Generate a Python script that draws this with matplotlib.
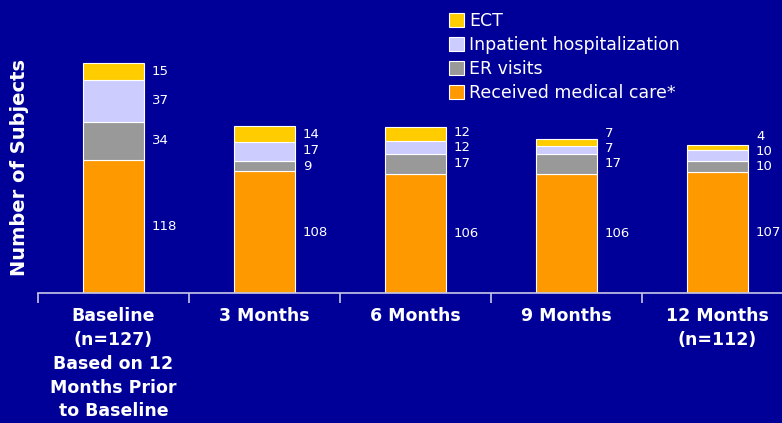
import matplotlib.pyplot as plt
import numpy as np

# data
categories = ['Baseline\n(n=127)\nBased on 12\nMonths Prior\nto Baseline',
              '3 Months', '6 Months', '9 Months', '12 Months\n(n=112)']
medical = [118, 108, 106, 106, 107]
er_visits = [34, 9, 17, 17, 10]
inpatient = [37, 17, 12, 7, 10]
ect = [15, 14, 12, 7, 4]

series = [('Received medical care*', medical, '#FF9900'),
          ('ER visits', er_visits, '#999999'),
          ('Inpatient hospitalization', inpatient, '#CCCCFF'),
          ('ECT', ect, '#FFCC00')]

bg = '#000099'
W, H = 782, 423
fig = plt.figure(figsize=(W/100, H/100), dpi=100, facecolor=bg)

# axes: bottom spine at y=293px, 1.127 px per subject, category cells 151 px wide
ymax = 220
ax_h = ymax*1.127
ax = fig.add_axes([38/W, (H-293)/H, 755/W, ax_h/H])
ax.set_facecolor(bg)

x = np.arange(len(categories))
bottom = np.zeros(len(categories))
handles = []
mids = []
for name, vals, col in series:
    vals = np.array(vals, dtype=float)
    b = ax.bar(x, vals, 0.41, bottom=bottom, color=col, edgecolor='white',
               linewidth=0.8, label=name)
    handles.append(b)
    mids.append(bottom + vals/2)
    bottom = bottom + vals

# value labels beside each segment, pushed apart where segments are thin
min_gap = 13.5
for i in range(len(categories)):
    prev = -100
    for k, (name, vals, col) in enumerate(series):
        y = max(mids[k][i], prev + min_gap)
        prev = y
        ax.text(x[i] + 0.255, y, str(vals[i]), color='white', fontsize=9.5,
                va='center', ha='left')

ax.set_xlim(-0.5, len(categories) - 0.5)
ax.set_ylim(0, ymax)
for s in ['top', 'right', 'left']:
    ax.spines[s].set_visible(False)
ax.spines['bottom'].set_color('#C8C8E8')
ax.spines['bottom'].set_linewidth(1.2)
ax.set_yticks([])
ax.set_xticks(x)
ax.set_xticklabels(categories, color='white', fontsize=12.5, fontweight='bold',
                   linespacing=1.42)
ax.tick_params(axis='x', which='major', length=0, pad=10)
ax.set_xticks(np.arange(-0.5, len(categories)), minor=True)
ax.tick_params(axis='x', which='minor', length=7, width=1.2, color='#C8C8E8',
               direction='out')

fig.text(20/W, 1-167/H, 'Number of Subjects', rotation=90, color='white',
         fontsize=14, fontweight='bold', ha='center', va='center')

leg = fig.legend(handles[::-1], [s[0] for s in series[::-1]],
                 loc='upper left', bbox_to_anchor=(449/W, 1-12/H),
                 frameon=False, fontsize=12.5, labelcolor='white',
                 handlelength=0.85, handleheight=0.85, handletextpad=0.3,
                 labelspacing=0.35, borderpad=0, borderaxespad=0)

fig.savefig('out.png', dpi=100, facecolor=bg)
